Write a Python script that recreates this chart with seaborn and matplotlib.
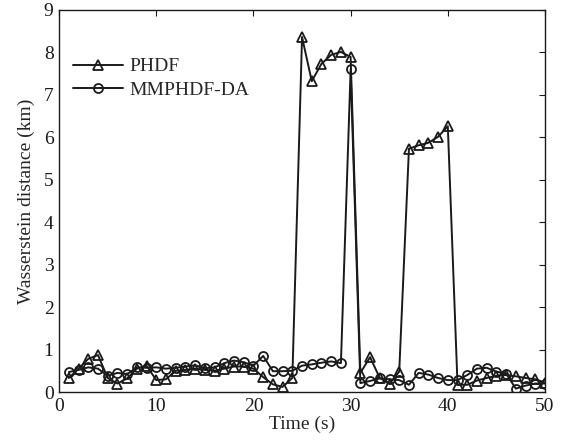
import numpy as np
import pandas as pd
import matplotlib
matplotlib.use("Agg")
import matplotlib.pyplot as plt
import seaborn as sns

time = list(range(1, 51))
phdf = [0.33, 0.55, 0.78, 0.87, 0.33, 0.2, 0.32, 0.55, 0.62, 0.28,
        0.3, 0.5, 0.52, 0.55, 0.52, 0.5, 0.55, 0.6, 0.6, 0.55,
        0.35, 0.18, 0.12, 0.33, 8.36, 7.32, 7.73, 7.94, 8.01, 7.89,
        0.45, 0.82, 0.33, 0.2, 0.48, 5.73, 5.81, 5.87, 6.01, 6.26,
        0.17, 0.17, 0.27, 0.33, 0.38, 0.4, 0.37, 0.33, 0.3, 0.22]
mmphdf = [0.47, 0.52, 0.58, 0.55, 0.38, 0.45, 0.42, 0.58, 0.57, 0.58,
          0.55, 0.57, 0.6, 0.63, 0.56, 0.58, 0.68, 0.74, 0.7, 0.62,
          0.85, 0.49, 0.49, 0.5, 0.62, 0.65, 0.69, 0.72, 0.68, 7.6,
          0.21, 0.26, 0.32, 0.3, 0.28, 0.17, 0.45, 0.41, 0.33, 0.28,
          0.28, 0.4, 0.55, 0.57, 0.48, 0.43, 0.08, 0.15, 0.2, 0.2]
labels = ["PHDF", "MMPHDF-DA"]

sns.set_theme(style="white")
plt.rcParams['font.family'] = ['Liberation Serif', 'DejaVu Serif']

fig = plt.figure(figsize=(5.63, 4.48), dpi=100)
ax = fig.add_axes([0.105, 0.125, 0.863, 0.853])

df1 = pd.DataFrame({"t": time, "v": phdf})
df2 = pd.DataFrame({"t": time, "v": mmphdf})
sns.lineplot(data=df1, x="t", y="v", ax=ax, color="k", lw=1.4, marker="^",
             markersize=7, markerfacecolor="none", markeredgecolor="k",
             markeredgewidth=1.3, label=labels[0])
sns.lineplot(data=df2, x="t", y="v", ax=ax, color="k", lw=1.4, marker="o",
             markersize=6.5, markerfacecolor="none", markeredgecolor="k",
             markeredgewidth=1.3, label=labels[1])

ax.set_xlim(0, 50)
ax.set_ylim(0, 9)
ax.set_xticks(range(0, 51, 10))
ax.set_yticks(range(0, 10))
ax.set_xlabel("Time (s)", fontsize=14, labelpad=1)
ax.set_ylabel("Wasserstein distance (km)", fontsize=14, labelpad=6)
ax.tick_params(direction="in", length=4, width=0.8, top=True, right=True,
               labelsize=14, colors="k", pad=4)
for s in ax.spines.values():
    s.set_color("k")
    s.set_linewidth(1.0)

ax.legend(loc="upper left", bbox_to_anchor=(0.0, 0.91), frameon=False,
          fontsize=14, handlelength=2.6, labelspacing=0.3, handletextpad=0.3,
          borderaxespad=0.3)

fig.savefig("out.png", dpi=100)
